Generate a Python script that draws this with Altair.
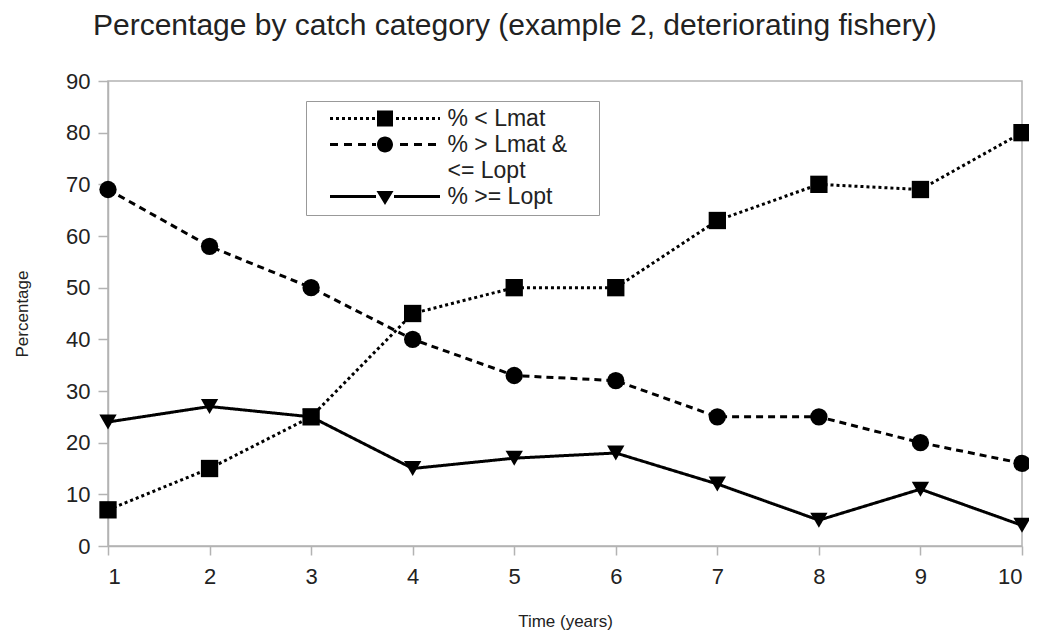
import altair as alt
import pandas as pd

# ---- data ----
years = [1, 2, 3, 4, 5, 6, 7, 8, 9, 10]
series_names = ["% < Lmat", "% > Lmat & <= Lopt", "% >= Lopt"]
pct_below_lmat = [7, 15, 25, 45, 50, 50, 63, 70, 69, 80]
pct_between = [69, 58, 50, 40, 33, 32, 25, 25, 20, 16]
pct_above_lopt = [24, 27, 25, 15, 17, 18, 12, 5, 11, 4]
y_ticks = [0, 10, 20, 30, 40, 50, 60, 70, 80, 90]
legend_labels = ["% < Lmat", "% > Lmat &", "<= Lopt", "% >= Lopt"]

rows = []
for name, vals in zip(series_names, [pct_below_lmat, pct_between, pct_above_lopt]):
    for t, v in zip(years, vals):
        rows.append({"time": t, "pct": v, "series": name})
df = pd.DataFrame(rows)

# ---- legend symbol paths (line + marker), in units of 10 px ----
HALF = 5.5   # half line length
GAP = 0.9    # marker half extent (no dashes under marker)
TH = 0.15    # half line thickness


def rect(x0, x1, h=TH):
    return f"M{x0:.3f},{-h:.3f}L{x1:.3f},{-h:.3f}L{x1:.3f},{h:.3f}L{x0:.3f},{h:.3f}Z"


def line_path(on, off):
    if off == 0:
        return rect(-HALF, -GAP) + rect(GAP, HALF)
    parts = []
    x = -HALF
    while x < HALF:
        a, b = x, min(x + on, HALF)
        for lo, hi in ((-HALF, -GAP), (GAP, HALF)):
            aa, bb = max(a, lo), min(b, hi)
            if bb - aa > 0.05:
                parts.append(rect(aa, bb))
        x += on + off
    return "".join(parts)


square = "M-0.8,-0.8L0.8,-0.8L0.8,0.8L-0.8,0.8Z"
circle = "M0.8,0A0.8,0.8 0 1,1 -0.8,0A0.8,0.8 0 1,1 0.8,0Z"
tri_down = "M-0.85,-0.55L0.85,-0.55L0,0.85Z"
blank = "M0,0L0,0Z"

legend_paths = [
    line_path(0.3, 0.3) + square,
    line_path(0.8, 0.6) + circle,
    blank,
    line_path(1, 0) + tri_down,
]

FONT = "Liberation Sans"
TEXT = "#222222"
GREY = "#b3b3b3"

base = alt.Chart(df).encode(
    x=alt.X(
        "time:Q",
        scale=alt.Scale(domain=[1, 10], nice=False, zero=False),
        axis=alt.Axis(values=years, title="Time (years)", tickSize=9,
                      labelPadding=11, titlePadding=26, format="d"),
    ),
    y=alt.Y(
        "pct:Q",
        scale=alt.Scale(domain=[0, 90], nice=False),
        axis=alt.Axis(values=y_ticks, title="Percentage", tickSize=10,
                      labelPadding=8, titlePadding=34),
    ),
)

lines = base.mark_line(color="black", strokeWidth=3).encode(
    strokeDash=alt.StrokeDash(
        "series:N",
        scale=alt.Scale(domain=series_names, range=[[3, 3], [7, 5], [1, 0]]),
        legend=None,
    )
)

points = base.mark_point(filled=True, color="black", opacity=1, size=300).encode(
    shape=alt.Shape(
        "series:N",
        scale=alt.Scale(domain=series_names, range=["square", "circle", "triangle-down"]),
        legend=None,
    )
)

legend_layer = (
    alt.Chart(df)
    .transform_filter("false")
    .mark_point(filled=True, color="black", opacity=1)
    .encode(
        shape=alt.Shape(
            "series:N",
            scale=alt.Scale(domain=legend_labels, range=legend_paths),
            legend=alt.Legend(
                title=None,
                orient="none",
                legendX=198,
                legendY=20,
                direction="vertical",
                symbolSize=400,
                symbolStrokeWidth=0,
                symbolFillColor="black",
                symbolOffset=61.5,
                labelOffset=51,
                labelFont=FONT,
                labelFontSize=23,
                labelColor=TEXT,
                labelLimit=400,
                padding=6,
                rowPadding=2,
                strokeColor="#999999",
                fillColor="white",
                labelExpr="datum.label + '\u00a0\u00a0\u00a0\u00a0\u200b'",
            ),
        )
    )
)

chart = (
    alt.layer(lines, points, legend_layer)
    .resolve_scale(shape="independent")
    .properties(
        width=914,
        height=465,
        autosize=alt.AutoSizeParams(type="none"),
        padding={"left": 100, "top": 73, "right": 7, "bottom": 89},
        title=alt.TitleParams(
            "Percentage by catch category (example 2, deteriorating fishery)",
            anchor="start",
            frame="group",
            dx=-15,
            offset=5,
            baseline="alphabetic",
            fontSize=30,
            font=FONT,
            fontWeight="normal",
            color=TEXT,
        ),
    )
    .configure_view(stroke=GREY, strokeWidth=1.5)
    .configure_axis(
        grid=False,
        domainColor=GREY,
        domainWidth=1.5,
        tickColor=GREY,
        tickWidth=1.5,
        labelFont=FONT,
        labelFontSize=22,
        labelColor=TEXT,
        titleFont=FONT,
        titleFontSize=17,
        titleFontWeight="normal",
        titleColor=TEXT,
    )
)

chart.save("out.html", embed_options={"renderer": "svg", "actions": False})
